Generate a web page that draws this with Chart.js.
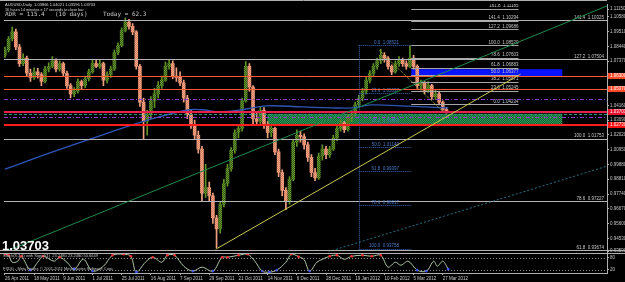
<!DOCTYPE html>
<html>
<head>
<meta charset="utf-8">
<script src="https://cdn.jsdelivr.net/npm/chart.js@4.4.1/dist/chart.umd.min.js"></script>
<style>
    html, body { margin: 0; padding: 0; background: #000; }
    #wrap { width: 625px; height: 282px; }
</style>
</head>
<body>
<div id="wrap"><canvas id="chart" width="625" height="282"></canvas></div>
<script>
// AUDUSD daily, one candle per two bars (bar index on x)
const barIdx = [0,2,4,6,8,10,12,14,16,18, 20,22,24,26,28,30,32,34,36,38,
    40,42,44,46,48,50,52,54,56,58, 60,62,64,66,68,70,72,74,76,78,
    80,82,84,86,88,90,92,94,96,98, 100,102,104,106,108,110,112,114,116,118,
    120,122,124,126,128,130,132,134,136,138, 140,142,144,146,148,150,152,154,156,158,
    160,162,164,166,168,170,172,174,176,178, 180,182,184,186,188,190,192,194,196,198,
    200,202,204,206,208,210,212,214,216,218, 220,222,224,226,228,230,232,234,236,238,
    240,242];

const opens = [1.0780,1.0820,1.0900,1.0950,1.0840,1.0720,1.0760,1.0650,1.0620,1.0660,
    1.0640,1.0590,1.0680,1.0700,1.0740,1.0680,1.0720,1.0650,1.0560,1.0500,
    1.0520,1.0590,1.0560,1.0610,1.0660,1.0720,1.0700,1.0720,1.0600,1.0640,
    1.0680,1.0800,1.0850,1.0960,1.1020,1.0990,1.0950,1.0700,1.0440,1.0300,
    1.0350,1.0450,1.0500,1.0560,1.0600,1.0700,1.0720,1.0630,1.0620,1.0580,
    1.0470,1.0350,1.0280,1.0200,1.0100,0.9780,0.9820,0.9760,0.9600,0.9520,
    0.9700,0.9850,0.9960,1.0090,1.0220,1.0250,1.0450,1.0700,1.0550,1.0320,
    1.0300,1.0380,1.0280,1.0220,1.0250,1.0080,0.9930,0.9800,0.9720,0.9880,
    1.0150,1.0200,1.0190,1.0130,1.0040,0.9930,0.9890,1.0050,1.0100,1.0060,
    1.0100,1.0180,1.0250,1.0290,1.0240,1.0330,1.0350,1.0420,1.0470,1.0520,
    1.0600,1.0650,1.0700,1.0740,1.0780,1.0760,1.0700,1.0660,1.0720,1.0750,
    1.0720,1.0700,1.0760,1.0700,1.0560,1.0580,1.0520,1.0560,1.0480,1.0500,
    1.0440,1.03866];
const highs = [1.0840,1.0915,1.0985,1.0970,1.0860,1.0790,1.0775,1.0680,1.0690,1.0685,
    1.0655,1.0700,1.0725,1.0770,1.0755,1.0740,1.0730,1.0665,1.0575,1.0545,
    1.0610,1.0600,1.0630,1.0680,1.0745,1.0750,1.0745,1.0730,1.0660,1.0700,
    1.0820,1.0870,1.0980,1.1052,1.1040,1.1010,1.0960,1.0715,1.0470,1.0380,
    1.0480,1.0540,1.0590,1.0630,1.0730,1.0750,1.0740,1.0690,1.0660,1.0600,
    1.0490,1.0380,1.0310,1.0230,1.0120,0.9990,0.9860,0.9780,0.9620,0.9720,
    0.9880,0.9990,1.0110,1.0240,1.0280,1.0470,1.0735,1.0720,1.0560,1.0370,
    1.0410,1.0400,1.0300,1.0280,1.0260,1.0100,0.9950,0.9820,0.9900,1.0170,
    1.0240,1.0230,1.0210,1.0150,1.0060,0.9960,1.0070,1.0130,1.0120,1.0120,
    1.0200,1.0270,1.0310,1.0300,1.0350,1.0370,1.0440,1.0490,1.0540,1.0620,
    1.0670,1.0720,1.0760,1.0823,1.0800,1.0770,1.0710,1.0740,1.0770,1.0760,
    1.0740,1.0852,1.0780,1.0710,1.0600,1.0590,1.0590,1.0570,1.0530,1.0520,
    1.0450,1.04021];
const lows = [1.0765,1.0805,1.0885,1.0820,1.0700,1.0705,1.0630,1.0590,1.0605,1.0615,
    1.0560,1.0580,1.0660,1.0690,1.0660,1.0665,1.0630,1.0540,1.0470,1.0480,
    1.0505,1.0530,1.0545,1.0595,1.0650,1.0690,1.0685,1.0560,1.0580,1.0620,
    1.0670,1.0785,1.0840,1.0950,1.0970,1.0930,1.0680,1.0410,1.0170,1.0200,
    1.0320,1.0400,1.0470,1.0540,1.0590,1.0680,1.0610,1.0590,1.0560,1.0440,
    1.0320,1.0250,1.0170,1.0070,0.9720,0.9750,0.9720,0.9560,0.9385,0.9490,
    0.9680,0.9830,0.9940,1.0070,1.0180,1.0230,1.0440,1.0520,1.0280,1.0270,
    1.0280,1.0250,1.0180,1.0190,1.0060,0.9900,0.9760,0.9660,0.9700,0.9870,
    1.0120,1.0150,1.0100,1.0010,0.9900,0.9870,0.9880,1.0020,1.0030,1.0040,
    1.0090,1.0160,1.0230,1.0220,1.0230,1.0300,1.0340,1.0400,1.0450,1.0500,
    1.0580,1.0630,1.0680,1.0720,1.0730,1.0680,1.0640,1.0650,1.0700,1.0700,
    1.0680,1.0690,1.0680,1.0540,1.0530,1.0500,1.0510,1.0460,1.0460,1.0420,
    1.0380,1.03596];
const closes = [1.0820,1.0900,1.0950,1.0840,1.0720,1.0760,1.0650,1.0620,1.0660,1.0640,
    1.0590,1.0680,1.0700,1.0740,1.0680,1.0720,1.0650,1.0560,1.0500,1.0520,
    1.0590,1.0560,1.0610,1.0660,1.0720,1.0700,1.0720,1.0600,1.0640,1.0680,
    1.0800,1.0850,1.0960,1.1020,1.0990,1.0950,1.0700,1.0440,1.0300,1.0350,
    1.0450,1.0500,1.0560,1.0600,1.0700,1.0720,1.0630,1.0620,1.0580,1.0470,
    1.0350,1.0280,1.0200,1.0100,0.9780,0.9820,0.9760,0.9600,0.9520,0.9700,
    0.9850,0.9960,1.0090,1.0220,1.0250,1.0450,1.0700,1.0550,1.0320,1.0300,
    1.0380,1.0280,1.0220,1.0250,1.0080,0.9930,0.9800,0.9720,0.9880,1.0150,
    1.0200,1.0190,1.0130,1.0040,0.9930,0.9890,1.0050,1.0100,1.0060,1.0100,
    1.0180,1.0250,1.0290,1.0240,1.0330,1.0350,1.0420,1.0470,1.0520,1.0600,
    1.0650,1.0700,1.0740,1.0780,1.0760,1.0700,1.0660,1.0720,1.0750,1.0720,
    1.0700,1.0760,1.0700,1.0560,1.0580,1.0520,1.0560,1.0480,1.0500,1.0440,
    1.0387,1.03703];

// moving average (blue)
const maIdx = [0,27,54,81,101,108,118,130,143,163,179,190,201,217,243];
const maVals = [0.9954,1.0083,1.0205,1.0320,1.0385,1.0385,1.0370,1.0385,1.0413,1.0406,1.0399,1.0399,1.0420,1.0413,1.0399];

// stochastic sub window
const oscIdx = [0,2,4,7,9,14,18,21,27,30, 34,38,43,48,54,59,65,69,72,77,
    81,86,89,93,98,103,108,114,119,122, 128,133,137,141,145,149,154,157,161,164,
    167,171,174,178,182,186,190,196,201,206, 210,214,217,221,226,231,235,237,240,243];
const oscVals = [97,92,57,62,87,17,57,87,62,82, 57,22,72,12,37,92,97,87,7,57,
    82,57,92,92,37,12,32,12,82,82, 92,97,62,12,7,17,57,97,85,70,
    12,57,72,87,92,72,87,92,87,92, 32,57,42,62,17,12,62,37,62,22];
const oscLevels = [80, 20];

// time axis
const dateIdx = [0,16,32,48,64,80,96,112,128,144,160,176,192,208,224,240];
const dates = ['26 Apr 2011','18 May 2011','9 Jun 2011','1 Jul 2011','25 Jul 2011','16 Aug 2011',
    '7 Sep 2011','29 Sep 2011','21 Oct 2011','14 Nov 2011','6 Dec 2011','28 Dec 2011',
    '19 Jan 2012','10 Feb 2012','5 Mar 2012','27 Mar 2012'];

// price axis
const priceTicks = [1.11150,1.10580,1.09510,1.08440,1.07370,1.06300,1.05230,1.04160,1.03090,
    1.02020,1.00950,0.99880,0.98810,0.97740,0.96670,0.95600,0.94530,0.93590];

// drawn objects (prices)
const hLines = [1.0630, 1.0537, 1.0466, 1.0369, 1.0352, 1.0330, 1.0273];
const fibBig = [1.10325, 1.07504, 1.01753, 0.97227, 0.93674];
const fibBigNames = ['141.4', '127.2', '100.0', '78.6', '61.8'];
const fibSmall = [1.11185, 1.10294, 1.09686, 1.08520, 1.07603, 1.06883, 1.06377, 1.05871, 1.05245, 1.04234];
const fibSmallNames = ['161.8', '141.4', '127.2', '100.0', '78.6', '61.8', '50.0', '38.2', '23.6', '0.0'];
const fibLeft = [1.08521, 1.05037, 1.02882, 1.01140, 0.99397, 0.96917, 0.93758];
const fibLeftNames = ['0.0', '23.6', '38.2', '50.0', '61.8', '78.6', '100.0'];
const greenZone = [143.8, 305.5, 1.0356, 1.0277];
const blueZone = [222.7, 305.5, 1.0679, 1.0628];
const trendGreen = [-0.5, 0.9352, 330, 1.1138];
const trendYellow = [115.5, 0.9373, 282.6, 1.0643];
const trendTeal = [171, 0.9330, 330, 0.9976];
const channelYellow = [205.3, 1.0815, 240.2, 1.0370];
const lastPrice = 1.03703;

const canvas = document.getElementById('chart');
const c2d = canvas.getContext('2d');

function dots(a, b) {
    const c = document.createElement('canvas');
    c.width = 2; c.height = 2;
    const g = c.getContext('2d');
    g.fillStyle = a; g.fillRect(0, 0, 2, 2);
    g.fillStyle = b; g.fillRect(1, 0, 1, 1); g.fillRect(0, 1, 1, 1);
    return c2d.createPattern(c, 'repeat');
}

const bullFill = dots('#6a9e28', '#33561a');
const bearFill = dots('#f2aa88', '#de7c60');
const zoneFill = dots('#2a9a55', '#12602e');

const isBull = k => closes[k] >= opens[k];

const FONT = '"Liberation Sans", Arial, sans-serif';

function hline(ctx, x1, x2, y, color, w, dash) {
    ctx.strokeStyle = color;
    ctx.lineWidth = w;
    ctx.setLineDash(dash || []);
    const yy = w % 2 === 1 ? Math.round(y) + 0.5 : Math.round(y);
    ctx.beginPath(); ctx.moveTo(x1, yy); ctx.lineTo(x2, yy); ctx.stroke();
}

function seg(ctx, X, Y, s, color, w, dash) {
    ctx.strokeStyle = color;
    ctx.lineWidth = w;
    ctx.setLineDash(dash || []);
    ctx.beginPath(); ctx.moveTo(X(s[0]), Y(s[1])); ctx.lineTo(X(s[2]), Y(s[3])); ctx.stroke();
}

const drawings = {
    id: 'drawings',
    beforeDatasetsDraw(chart) {
        const {ctx, scales: {x, y}} = chart;
        const X = v => x.getPixelForValue(v), Y = v => y.getPixelForValue(v);
        ctx.save();
        ctx.beginPath(); ctx.rect(x.left, y.top, x.right - x.left, y.bottom - y.top); ctx.clip();
        ctx.fillStyle = zoneFill;
        ctx.fillRect(X(greenZone[0]), Y(greenZone[2]), X(greenZone[1]) - X(greenZone[0]), Y(greenZone[3]) - Y(greenZone[2]));
        ctx.fillStyle = '#0814ff';
        ctx.fillRect(X(blueZone[0]), Y(blueZone[2]), X(blueZone[1]) - X(blueZone[0]), Y(blueZone[3]) - Y(blueZone[2]));
        ctx.restore();
    },
    afterDatasetsDraw(chart) {
        const {ctx, scales: {x, y, y2}} = chart;
        const X = v => x.getPixelForValue(v), Y = v => y.getPixelForValue(v);
        const L = x.left, R = x.right;
        ctx.save();
        ctx.beginPath(); ctx.rect(L, y.top, R - L, y.bottom - y.top); ctx.clip();

        // big fibo, full width
        fibBig.forEach((p, k) => {
            hline(ctx, L, R, Y(p), '#b4b4b4', 1);
            ctx.font = '4.5px ' + FONT; ctx.fillStyle = '#c8c8c8';
            ctx.textAlign = 'right'; ctx.textBaseline = 'bottom';
            ctx.fillText(fibBigNames[k] + '  ' + p.toFixed(5), R - 3, Y(p) - 0.5);
        });

        // small fibo from the February top
        fibSmall.forEach((p, k) => {
            hline(ctx, X(222.7), X(281.5), Y(p), '#a8a8a8', 1);
            ctx.font = '4.5px ' + FONT; ctx.fillStyle = '#c8c8c8';
            ctx.textAlign = 'right'; ctx.textBaseline = 'bottom';
            ctx.fillText(fibSmallNames[k] + '  ' + p.toFixed(5), X(281.5), Y(p) - 0.5);
        });

        // left fibo, dotted blue
        fibLeft.forEach((p, k) => {
            hline(ctx, X(193.9), X(222.7), Y(p), '#3c64b4', 1, [1, 1]);
            ctx.font = '4.5px ' + FONT; ctx.fillStyle = '#4a78c8';
            ctx.textAlign = 'right'; ctx.textBaseline = 'bottom';
            ctx.fillText(fibLeftNames[k] + '  ' + p.toFixed(5), X(216), Y(p) - 0.5);
        });
        ctx.strokeStyle = '#3c64b4'; ctx.lineWidth = 1; ctx.setLineDash([1, 1]);
        ctx.beginPath();
        ctx.moveTo(Math.round(X(193.9)) + 0.5, Y(fibLeft[0]));
        ctx.lineTo(Math.round(X(193.9)) + 0.5, Y(fibLeft[fibLeft.length - 1]));
        ctx.stroke();

        // support / resistance lines
        const st = [
            ['#ff5a30', 1], ['#ff5a30', 1], ['#8a3ccf', 1, [4, 2, 1, 2]], ['#e8204a', 2],
            ['#2f8f7a', 1, [3, 2]], ['#8a3ccf', 1, [4, 2, 1, 2]], ['#ff1c1c', 2]
        ];
        hLines.forEach((p, k) => hline(ctx, L, R, Y(p), st[k][0], st[k][1], st[k][2]));

        // trend lines
        seg(ctx, X, Y, trendGreen, '#1f8a4c', 1);
        seg(ctx, X, Y, trendYellow, '#c8c850', 1);
        seg(ctx, X, Y, trendTeal, '#2a6f80', 1, [2, 2]);
        seg(ctx, X, Y, channelYellow, '#b4b440', 1, [1, 1]);
        ctx.restore();

        // stochastic levels
        ctx.save();
        oscLevels.forEach(v => hline(ctx, L, R, y2.getPixelForValue(v), '#8c8c8c', 1, [1, 2]));
        ctx.restore();
    },
    afterDraw(chart) {
        const {ctx, scales: {x, y, y2}} = chart;
        const Y = v => y.getPixelForValue(v);
        ctx.save();
        // frame
        hline(ctx, 0, x.right, 0, '#b0b0b0', 1);
        hline(ctx, 0, 625, y.bottom - 1, '#b0b0b0', 1);
        hline(ctx, 0, 625, y.bottom + 2, '#b0b0b0', 1);

        // coloured price labels on the axis
        const tags = [[hLines[0], '#ff4a2a'], [hLines[1], '#ff4a2a'], [lastPrice, '#e8102a'], [hLines[6], '#ff1010']];
        tags.forEach(([p, col]) => {
            const yy = Math.round(Y(p));
            ctx.fillStyle = col;
            ctx.fillRect(x.right + 1, yy - 3, 625 - x.right, 6);
            ctx.fillStyle = '#ffffff';
            ctx.font = '4.5px ' + FONT; ctx.textAlign = 'left'; ctx.textBaseline = 'middle';
            ctx.fillText(p.toFixed(5), x.right + 3, yy);
        });

        // header
        ctx.textAlign = 'left'; ctx.textBaseline = 'middle';
        ctx.fillStyle = '#d8d8d8';
        ctx.font = '4px ' + FONT;
        ctx.fillText('AUDUSD,Daily  1.03866 1.04021 1.03596 1.03703', 5, 5);
        ctx.font = '3.8px ' + FONT;
        ctx.fillText('16 hours 14 minutes e 17 seconds to close bar', 5, 9.5);
        ctx.fillStyle = '#c8c8c8';
        ctx.font = '6px "DejaVu Sans Mono", monospace';
        ctx.fillText('ADR = 115.4', 5, 14);
        ctx.fillText('(10 days)', 55, 14);
        ctx.fillText('Today = 62.3', 103, 14);

        // last price
        ctx.fillStyle = '#ffffff';
        ctx.font = 'bold 13px ' + FONT;
        ctx.textBaseline = 'alphabetic';
        ctx.fillText(lastPrice.toFixed(5), 2, 250);

        // sub window texts
        ctx.fillStyle = '#c0c0c0';
        ctx.font = '4px ' + FONT;
        ctx.textBaseline = 'middle';
        ctx.fillText('Stoch(8,3,3) with Signal(1)  23.2480 23.2480 50.6649', 3, y2.top + 5);
        ctx.fillText('FXDD - MetaTrader, \u00a9 2001-2011 MetaQuotes Software Corp.', 3, y2.bottom - 4);
        ctx.restore();
    }
};

new Chart(canvas, {
    type: 'bar',
    data: {
        datasets: [
            {
                type: 'line',
                label: 'MA',
                data: maIdx.map((v, k) => ({x: v, y: maVals[k]})),
                borderColor: '#2f56b8',
                borderWidth: 1.3,
                pointRadius: 0,
                tension: 0.4,
                yAxisID: 'y',
                order: 0
            },
            {
                type: 'line',
                label: 'Stoch',
                data: oscIdx.map((v, k) => ({x: v, y: oscVals[k]})),
                borderColor: '#b0c8a8',
                borderWidth: 1,
                tension: 0.35,
                pointRadius: c => (oscVals[c.dataIndex] > 75 || oscVals[c.dataIndex] < 25) ? 1.3 : 0,
                pointBackgroundColor: c => oscVals[c.dataIndex] > 75 ? '#ff3030' : '#3a50ff',
                pointBorderWidth: 0,
                yAxisID: 'y2',
                order: 0
            },
            {
                label: 'body',
                data: barIdx.map((v, k) => ({x: v, y: [opens[k], closes[k]]})),
                backgroundColor: c => isBull(c.dataIndex) ? bullFill : bearFill,
                borderWidth: 0,
                barThickness: 3,
                grouped: false,
                yAxisID: 'y',
                order: 1
            },
            {
                label: 'wick',
                data: barIdx.map((v, k) => ({x: v, y: [lows[k], highs[k]]})),
                backgroundColor: c => isBull(c.dataIndex) ? '#5f9424' : '#f0a080',
                borderWidth: 0,
                barThickness: 1,
                grouped: false,
                yAxisID: 'y',
                order: 2
            }
        ]
    },
    options: {
        responsive: false,
        animation: false,
        devicePixelRatio: 1,
        layout: {padding: {top: 1, left: 0, right: 0, bottom: 0}},
        plugins: {legend: {display: false}, tooltip: {enabled: false}},
        scales: {
            x: {
                type: 'linear',
                min: -0.5,
                max: 330,
                offset: false,
                grid: {display: true, drawOnChartArea: false, offset: false, tickLength: 2, color: '#b0b0b0'},
                border: {display: true, color: '#b0b0b0'},
                ticks: {
                    autoSkip: false, maxRotation: 0, align: 'start', padding: 1,
                    color: '#c8c8c8', font: {size: 4.5, family: FONT},
                    callback: (v, i) => dates[i]
                },
                afterBuildTicks: s => { s.ticks = dateIdx.map(v => ({value: v})); },
                afterFit: s => { s.height = 9; }
            },
            y: {
                type: 'linear',
                position: 'right',
                stack: 'win',
                stackWeight: 250,
                min: 0.9359,
                max: 1.1152,
                beginAtZero: false,
                grid: {display: true, drawOnChartArea: false, tickLength: 2, color: '#b0b0b0'},
                border: {display: true, color: '#b0b0b0'},
                ticks: {
                    autoSkip: false, padding: 1, color: '#c8c8c8', font: {size: 4.5, family: FONT},
                    callback: v => v.toFixed(5)
                },
                afterBuildTicks: s => { s.ticks = priceTicks.map(v => ({value: v})); },
                afterFit: s => { s.width = 18; }
            },
            y2: {
                type: 'linear',
                position: 'right',
                stack: 'win',
                stackWeight: 22,
                min: 2.5,
                max: 112.5,
                grid: {display: true, drawOnChartArea: false, tickLength: 2, color: '#b0b0b0'},
                border: {display: true, color: '#b0b0b0'},
                ticks: {autoSkip: false, padding: 1, color: '#c8c8c8', font: {size: 4.5, family: FONT}},
                afterBuildTicks: s => { s.ticks = oscLevels.map(v => ({value: v})); },
                afterFit: s => { s.width = 18; }
            }
        }
    },
    plugins: [drawings]
});
</script>
</body>
</html>
